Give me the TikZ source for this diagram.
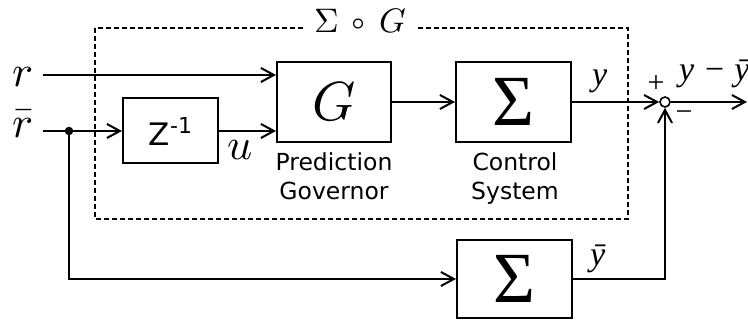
\documentclass[tikz,border=0pt]{standalone}
\usepackage{fontspec}
\usepackage{unicode-math}
\setmathfont{Latin Modern Math}
\usetikzlibrary{arrows.meta}
\newfontfamily\sansfont{DejaVu Sans}
\newfontfamily\timesfont{Liberation Serif}

\tikzset{
  x=1pt, y=1pt,
  conn/.style={line width=2pt},
  >={Straight Barb[length=13pt,width=14pt]},
  blockbox/.style={draw, line width=2pt, rectangle, inner sep=0pt,
    minimum width=#1, minimum height=80pt},
  sigmatext/.style={font=\timesfont\fontsize{72}{72}\selectfont},
  caption/.style={font=\sansfont\fontsize{23.5}{29}\selectfont, align=center,
    anchor=north, inner sep=0pt},
  dot/.style={circle, fill, inner sep=0pt, minimum size=8.5pt},
  sumnode/.style={circle, draw, line width=1.6pt, inner sep=0pt, minimum size=10pt, fill=white},
  grouping/.style={dashed, dash pattern=on 5pt off 3pt, line width=1.6pt},
  sigtext/.style={font=\fontsize{44}{44}\selectfont, inner sep=0pt},
  ylab/.style={font=\timesfont\itshape\fontsize{34}{34}\selectfont, inner sep=0pt, anchor=base west},
  signmark/.style={font=\timesfont\fontsize{30}{30}\selectfont, inner sep=0pt}
}

\begin{document}
\begin{tikzpicture}
\useasboundingbox (0,0) rectangle (748,-320);

% dashed group around the governor and the plant
\draw[grouping] (95,-28) rectangle (628,-219);
\node[fill=white, inner xsep=9pt, inner ysep=2pt, anchor=base,
      font=\fontsize{34}{34}\selectfont] (title) at (360,-33)
  {$\Sigma\mathbin{\,\circ\,}G$};

% blocks
\node[blockbox=114pt] (G) at (334,-102) {\fontsize{55}{55}\selectfont$G$};
\node[blockbox=115pt, sigmatext] (S1) at (513.5,-102) {Σ};
\node[blockbox=95pt, minimum height=65pt] (Z) at (170.5,-131)
  {\sansfont\fontsize{31}{31}\selectfont Z\raisebox{12pt}{\sansfont\fontsize{22}{22}\selectfont -1}};
\node[blockbox=115pt, minimum height=78pt, sigmatext] (S2) at (514.5,-279) {Σ};

% block captions
\node[caption] (Gcap) at (334,-152) {Prediction\\Governor};
\node[caption] (S1cap) at (515,-152) {Control\\System};

% inputs
\node[sigtext, anchor=base] (r) at (23,-87) {$r$};
\node[sigtext, anchor=base] (rb) at (23,-138) {$\bar r$};
\coordinate (rin) at (43,-75);
\coordinate (rbin) at (43,-131);
\node[dot] (d) at (69,-131) {};

% summing junction and output end
\node[sumnode] (sj) at (665,-102) {};
\coordinate (out) at (747,-102);

% connectors
\draw[conn,->] (rin) -- (G.west |- rin);
\draw[conn] (rbin) -- (d.center);
\draw[conn,->] (d.center) -- (Z.west);
\draw[conn,->] (Z.east) -- (G.west |- Z.east);
\draw[conn,->] (G.east) -- (S1.west);
\draw[conn,->] (S1.east) -- (sj.west);
\draw[conn,->] (sj.east) -- (out);
\draw[conn,->] (d.center) |- (S2.west);
\draw[conn,->] (S2.east) -| (sj.south);

% signal labels
\node[sigtext, anchor=base] (u) at (240,-160) {$u$};
\node[ylab] (y) at (592,-86) {y};
\node[ylab] (yb) at (590,-266) {ȳ};
\node[ylab] (e) at (679,-81) {y − ȳ};
\node[signmark] (plus) at (656,-84) {+};
\node[signmark] (minus) at (684,-116) {−};
\end{tikzpicture}
\end{document}
